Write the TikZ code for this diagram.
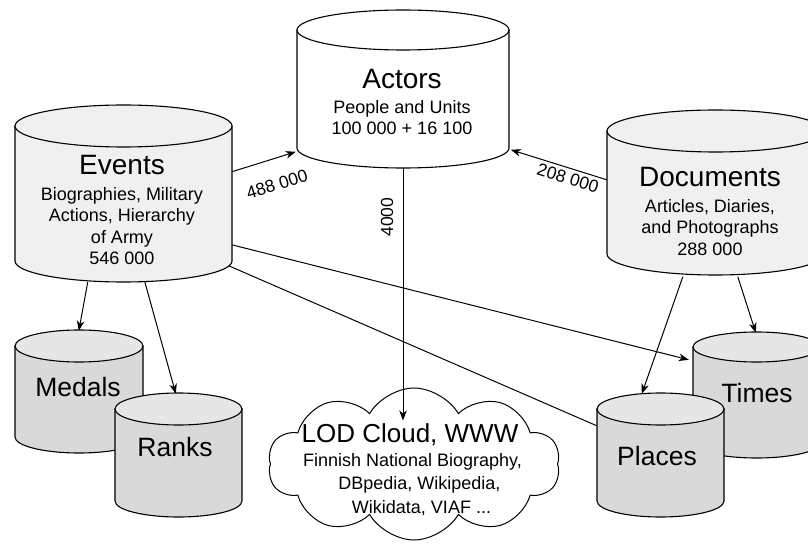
\documentclass[tikz,border=0pt]{standalone}
\usepackage{fontspec}
\setmainfont{Liberation Sans}
\usetikzlibrary{arrows.meta,shapes.symbols,fit}
\pgfdeclarelayer{paper}
\pgfdeclarelayer{links}
\pgfsetlayers{paper,links,main}
\definecolor{bigfill}{HTML}{F0F0F0}
\definecolor{smallbody}{HTML}{D9D9D9}
\definecolor{smalltop}{HTML}{E6E6E6}
\tikzset{
  cylline/.style={draw=black, line width=1.1pt},
  link/.style={line width=1pt, -{Stealth[length=10pt,width=7.5pt,inset=3pt]}},
  plainlink/.style={line width=1pt},
  bigtitle/.style={font=\fontsize{28}{32}\selectfont, inner sep=0pt},
  subtxt/.style={font=\fontsize{18}{21.4}\selectfont, align=center, inner sep=0pt},
  smalltitle/.style={font=\fontsize{26.5}{30}\selectfont, inner sep=0pt},
  elabel/.style={font=\fontsize{17.5}{20}\selectfont, inner sep=0pt},
}
% name, x left, x right, y top, y bottom (image px, downwards), ry, body fill, top fill
\newcommand\dbcyl[8]{%
  \pgfmathsetmacro\cylrx{(#3-#2)/2}%
  \pgfmathsetmacro\cylcx{(#2+#3)/2}%
  \pgfmathsetmacro\cylya{-(#4)-(#6)}%
  \pgfmathsetmacro\cylyb{-(#5)+(#6)}%
  \path[cylline, fill=#7] (#2,\cylya) -- (#2,\cylyb)
     arc[start angle=180, end angle=360, x radius=\cylrx, y radius=#6] -- (#3,\cylya) -- cycle;
  \path[cylline, fill=#8] (\cylcx,\cylya) ellipse[x radius=\cylrx, y radius=#6];
  \node[fit={(#2,-#4) (#3,-#5)}, inner sep=0pt] (#1) {};
}
\begin{document}
\begin{tikzpicture}[x=1pt,y=1pt]
\useasboundingbox (0,0) rectangle (808,-545);
\clip (0,0) rectangle (808,-545);
\begin{pgfonlayer}{paper}
\fill[white] (0,0) rectangle (808,-545);
\end{pgfonlayer}

% cylinders
\dbcyl{actors}{297}{509}{10}{168}{20}{white}{white}
\dbcyl{events}{15}{232}{105}{282}{21}{bigfill}{bigfill}
\dbcyl{documents}{607}{824}{110}{275}{21}{bigfill}{bigfill}
\dbcyl{medals}{15}{143}{330}{453}{16}{smallbody}{smalltop}
\dbcyl{ranks}{115}{242}{393}{517}{16}{smallbody}{smalltop}
\dbcyl{times}{693}{820}{332}{458}{15}{smallbody}{smalltop}
\dbcyl{places}{597}{724}{393}{517}{16}{smallbody}{smalltop}

% cloud
\node[cloud, draw, line width=1pt, cloud puffs=10, cloud puff arc=120, aspect=1.9,
      minimum width=292pt, minimum height=152pt, inner sep=0pt] (lod) at (414,-464) {};

% texts
\node[bigtitle] (evT) at (122,-165) {Events};
\node[subtxt] (evS) at (122,-226) {Biographies, Military\\Actions, Hierarchy\\of Army\\546 000};
\node[bigtitle] (acT) at (402,-79) {Actors};
\node[subtxt] (acS) at (402,-117.5) {People and Units\\100 000 + 16 100};
\node[bigtitle] (doT) at (710,-177) {Documents};
\node[subtxt] (doS) at (710,-227.5) {Articles, Diaries,\\and Photographs\\288 000};
\node[smalltitle] (meT) at (78,-387) {Medals};
\node[smalltitle] (raT) at (175,-447) {Ranks};
\node[smalltitle] (tiT) at (757,-393) {Times};
\node[smalltitle] (plT) at (657,-456) {Places};
\node[font=\fontsize{26}{30}\selectfont, inner sep=0pt] (loT) at (410,-435) {LOD Cloud, WWW};
\node[subtxt] (lo1) at (412.5,-462) {Finnish National Biography,};
\node[subtxt] (lo2) at (419.5,-485) {DBpedia, Wikipedia,};
\node[subtxt] (lo3) at (421.5,-508) {Wikidata, VIAF ...};

% edge labels
\node[elabel, rotate=17] (l488) at (277,-184) {488 000};
\node[elabel, rotate=-17] (l208) at (568,-178) {208 000};
\node[elabel, rotate=90] (l4000) at (387,-217) {4000};

% connectors (behind the cylinders)
\begin{pgfonlayer}{links}
\draw[link] ([shift={(217,-67)}]events.north west) -- ([shift={(-1,-142)}]actors.north west);
\draw[link] ([shift={(0,-70)}]documents.north west) -- ([shift={(214,-140)}]actors.north west);
\draw[link] (actors.south) -- ([shift={(-11,-33)}]lod.north);
\draw[link] ([shift={(73,-177)}]events.north west) -- ([shift={(64,-1)}]medals.north west);
\draw[link] ([shift={(130,-177)}]events.north west) -- ([shift={(61,-1)}]ranks.north west);
\draw[link] ([shift={(217,-140)}]events.north west) -- ([shift={(-4,-28)}]times.north west);
\draw[plainlink] ([shift={(214,-161)}]events.north west) -- ([shift={(0,-33)}]places.north west);
\draw[link] ([shift={(76,-167)}]documents.north west) -- ([shift={(45,-1)}]places.north west);
\draw[link] ([shift={(131,-167)}]documents.north west) -- ([shift={(63,-1)}]times.north west);
\end{pgfonlayer}
\end{tikzpicture}
\end{document}
